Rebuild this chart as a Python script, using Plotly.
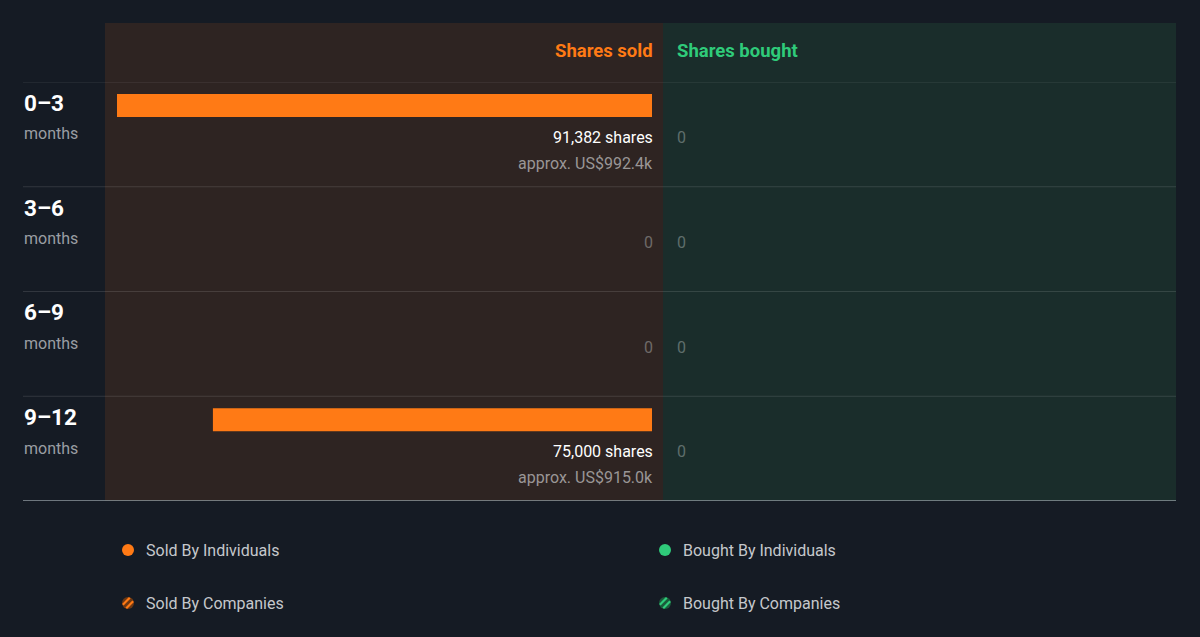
import math
import plotly.graph_objects as go

# ---- data ----
periods = ["0–3", "3–6", "6–9", "9–12"]
period_unit = "months"
shares_sold = [91382, 0, 0, 75000]
value_sold = ["US$992.4k", None, None, "US$915.0k"]
shares_bought = [0, 0, 0, 0]
legend_labels = ["Sold By Individuals", "Sold By Companies", "Bought By Individuals", "Bought By Companies"]

W, H = 1200, 637
BG = "#151b24"
SOLD_BG = "#2e2422"
BOUGHT_BG = "#1a2d2b"
ORANGE = "#ff7a15"
GREEN = "#2fcb7a"
FONT = "Roboto"

def px(x):
    return x / W

def py(y):
    return 1 - y / H

maxv = max(shares_sold)
# sold axis: 0 at right edge of bar area, grows leftwards
sold_range = [maxv * 547 / 535, -maxv * 11 / 535]
bought_range = [-maxv * 14 / 535, maxv * 499 / 535]

n = len(periods)
bar_off = 0.224
bar_w = 0.219
RS = 3   # right-aligned text nudge
LS = -2  # left-aligned text nudge

fig = go.Figure()
fig.add_trace(go.Bar(
    x=shares_sold, y=[i + bar_off for i in range(n)], orientation="h",
    width=bar_w, marker=dict(color=ORANGE, line=dict(width=0)),
    xaxis="x", yaxis="y", hoverinfo="skip", showlegend=False))
fig.add_trace(go.Bar(
    x=shares_bought, y=[i + bar_off for i in range(n)], orientation="h",
    width=bar_w, marker=dict(color=GREEN, line=dict(width=0)),
    xaxis="x2", yaxis="y", hoverinfo="skip", showlegend=False))

shapes = []
# panels
shapes.append(dict(type="rect", xref="x domain", yref="paper", x0=0, x1=1,
                   y0=py(501), y1=py(23), fillcolor=SOLD_BG, line=dict(width=0), layer="below"))
shapes.append(dict(type="rect", xref="x2 domain", yref="paper", x0=0, x1=1,
                   y0=py(501), y1=py(23), fillcolor=BOUGHT_BG, line=dict(width=0), layer="below"))
# row separators
for i in range(n):
    shapes.append(dict(type="line", xref="paper", yref="y", x0=px(23), x1=px(1176),
                       y0=i, y1=i, line=dict(color="rgba(255,255,255,0.12)", width=1)))
shapes.append(dict(type="line", xref="paper", yref="y", x0=px(23), x1=px(1176),
                   y0=n, y1=n, line=dict(color="#8c979d", width=1.5)))

annotations = []
# headers
annotations.append(dict(text="<b>Shares sold</b>", xref="x", yref="paper", x=0, y=py(51),
                        xanchor="right", yanchor="middle", showarrow=False, xshift=RS,
                        font=dict(family=FONT, size=18.5, color=ORANGE)))
annotations.append(dict(text="<b>Shares bought</b>", xref="x2", yref="paper", x=0, y=py(51),
                        xanchor="left", yanchor="middle", showarrow=False, xshift=LS,
                        font=dict(family=FONT, size=18.5, color=GREEN)))

for i, (p, s, v, b) in enumerate(zip(periods, shares_sold, value_sold, shares_bought)):
    annotations.append(dict(text=f"<b>{p}</b>", xref="paper", yref="y", x=px(22), y=i + 0.2,
                            xanchor="left", yanchor="middle", showarrow=False,
                            font=dict(family=FONT, size=22.5, color="#ffffff")))
    annotations.append(dict(text=period_unit, xref="paper", yref="y", x=px(22), y=i + 0.495,
                            xanchor="left", yanchor="middle", showarrow=False,
                            font=dict(family=FONT, size=16, color="#9a9ea3")))
    if s > 0:
        annotations.append(dict(text=f"{s:,} shares", xref="x", yref="y", x=0, y=i + 0.53,
                                xanchor="right", yanchor="middle", showarrow=False, xshift=RS,
                                font=dict(family=FONT, size=16, color="#ffffff")))
        annotations.append(dict(text=f"approx. {v}", xref="x", yref="y", x=0, y=i + 0.777,
                                xanchor="right", yanchor="middle", showarrow=False, xshift=RS,
                                font=dict(family=FONT, size=16, color="#9a9696")))
    else:
        annotations.append(dict(text="0", xref="x", yref="y", x=0, y=i + 0.53,
                                xanchor="right", yanchor="middle", showarrow=False, xshift=RS,
                                font=dict(family=FONT, size=16, color="#6e6a68")))
    if b > 0:
        annotations.append(dict(text=f"{b:,} shares", xref="x2", yref="y", x=b, y=i + 0.53,
                                xanchor="left", yanchor="middle", showarrow=False, xshift=LS,
                                font=dict(family=FONT, size=16, color="#ffffff")))
    else:
        annotations.append(dict(text="0", xref="x2", yref="y", x=b, y=i + 0.53,
                                xanchor="left", yanchor="middle", showarrow=False, xshift=LS,
                                font=dict(family=FONT, size=16, color="#5f6e6c")))

# legend
leg_pos = [(128, 550), (128, 603), (665, 550), (665, 603)]
leg_col = [ORANGE, ORANGE, GREEN, GREEN]
leg_dark = ["#6e3812", "#6e3812", "#1b5a3b", "#1b5a3b"]
r = 6
for k, (lbl, (cx, cy), col, dk) in enumerate(zip(legend_labels, leg_pos, leg_col, leg_dark)):
    striped = "Companies" in lbl
    shapes.append(dict(type="circle", xref="paper", yref="paper",
                       x0=px(cx - r), x1=px(cx + r), y0=py(cy + r), y1=py(cy - r),
                       fillcolor=dk if striped else col, line=dict(width=0)))
    if striped:
        s2 = 1 / math.sqrt(2)
        for o in (-2.4, 2.4):
            L = math.sqrt(r * r - o * o) - 0.6
            ox, oy = cx + o * s2, cy + o * s2
            shapes.append(dict(type="line", xref="paper", yref="paper",
                               x0=px(ox - L * s2), y0=py(oy + L * s2),
                               x1=px(ox + L * s2), y1=py(oy - L * s2),
                               line=dict(color=col, width=2.2)))
    annotations.append(dict(text=lbl, xref="paper", yref="paper", x=px(cx + 16), y=py(cy),
                            xanchor="left", yanchor="middle", showarrow=False,
                            font=dict(family=FONT, size=16, color="#c5c8cc")))

fig.update_layout(
    width=W, height=H, margin=dict(l=0, r=0, t=0, b=0),
    paper_bgcolor=BG, plot_bgcolor="rgba(0,0,0,0)",
    barmode="overlay", showlegend=False,
    xaxis=dict(domain=[px(105), px(663)], range=sold_range, visible=False, fixedrange=True),
    xaxis2=dict(domain=[px(663), px(1176)], range=bought_range, visible=False, fixedrange=True,
                anchor="y"),
    yaxis=dict(domain=[py(501), py(82)], range=[n, 0], visible=False, fixedrange=True),
    shapes=shapes, annotations=annotations,
)

fig.write_html("out.html", config={"displayModeBar": False},
               post_script="document.body.style.margin='0';document.body.style.overflow='hidden';document.body.style.background='#151b24';")
